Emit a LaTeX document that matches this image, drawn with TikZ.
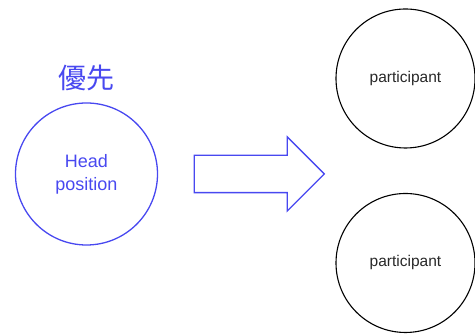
\documentclass[tikz,border=0pt]{standalone}
\usepackage{fontspec}
\setmainfont{Liberation Sans}
\newfontfamily\jafont{Noto Sans CJK JP}
\usetikzlibrary{positioning,shapes.arrows}
\definecolor{prio}{RGB}{72,72,240}
\definecolor{ink}{RGB}{40,40,40}
\begin{document}
\begin{tikzpicture}[x=1pt,y=1pt,
            head/.style = {draw=prio, circle, line width=1.3pt, minimum size=142pt,
                           text=prio, font=\fontsize{18}{23}\selectfont, align=center},
            part/.style = {draw=black, circle, line width=1.1pt, minimum size=139pt,
                           text=ink, font=\fontsize{15.5}{18}\selectfont},
            move/.style = {draw=prio, single arrow, line width=1.3pt, inner sep=0pt,
                           minimum height=130pt, text height=18pt, text depth=18pt,
                           single arrow head extend=18.5pt, single arrow head indent=0pt},
          ]
          \useasboundingbox (0,0) rectangle (475,336);
          \node[head] (hd) at (86.5,162) {Head\\position};
          \node[prio, font=\jafont\fontsize{28}{30}\selectfont, above=8pt of hd] (yu) {優先};
          \node[move] (go) at (250,162) {};
          \node[part] (p1) at (405.5,257.5) {participant};
          \node[part] (p2) at (405.5,73) {participant};
        \end{tikzpicture}
\end{document}
